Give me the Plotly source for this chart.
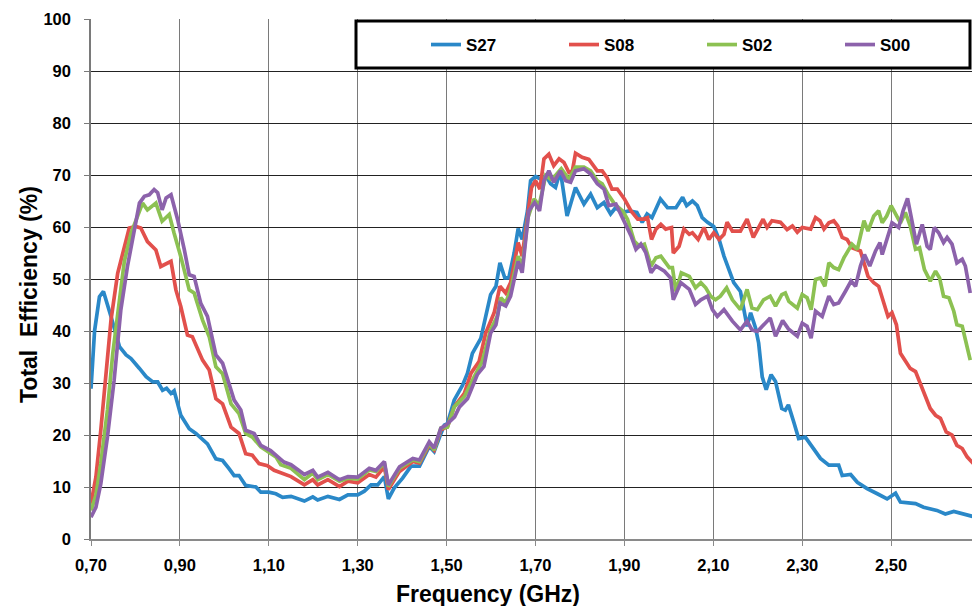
import plotly.graph_objects as go

# ---- data ----
f_s27 = [0.700,0.708,0.719,0.728,0.745,0.764,0.779,0.790,0.809,0.824,0.839,0.850,0.861,0.870,0.880,0.887,0.902,0.921,0.936,0.951,0.962,0.981,0.996,1.011,1.022,1.033,1.048,1.071,1.082,1.100,1.116,1.131,1.150,1.180,1.199,1.210,1.233,1.259,1.278,1.300,1.315,1.330,1.345,1.360,1.369,1.382,1.401,1.420,1.439,1.461,1.472,1.485,1.495,1.502,1.517,1.536,1.547,1.558,1.577,1.588,1.599,1.611,1.620,1.631,1.640,1.652,1.661,1.670,1.682,1.689,1.700,1.712,1.723,1.734,1.745,1.756,1.771,1.790,1.809,1.824,1.839,1.854,1.869,1.880,1.895,1.910,1.928,1.940,1.951,1.962,1.981,1.997,2.016,2.031,2.040,2.053,2.064,2.075,2.087,2.101,2.113,2.124,2.135,2.146,2.161,2.169,2.176,2.184,2.195,2.202,2.210,2.219,2.230,2.240,2.254,2.262,2.269,2.281,2.292,2.307,2.322,2.341,2.360,2.382,2.390,2.409,2.424,2.446,2.469,2.491,2.510,2.521,2.555,2.573,2.603,2.622,2.641,2.660,2.685]
v_s27 = [28.9,40.0,46.6,47.6,42.8,37.0,35.4,34.7,32.8,31.2,30.2,30.2,28.6,29.0,28.0,28.5,23.8,21.2,20.3,19.0,18.3,15.4,15.1,13.5,12.2,12.2,10.3,10.0,9.0,9.0,8.7,8.0,8.2,7.3,8.1,7.5,8.2,7.6,8.5,8.5,9.2,10.4,10.4,12.0,7.7,9.8,11.7,14.0,14.0,17.8,16.8,19.8,21.9,22.2,26.7,29.6,31.9,35.7,38.6,42.8,47.0,48.6,53.1,50.2,50.2,55.0,59.7,57.6,63.1,68.9,69.7,69.2,69.9,68.3,67.6,70.8,62.1,67.6,64.4,66.3,63.7,64.7,62.5,63.7,62.8,63.1,62.8,60.9,62.5,61.8,65.4,63.7,63.7,65.7,64.1,65.0,64.1,61.8,60.9,60.1,57.6,54.4,51.8,49.3,47.6,44.1,40.9,43.5,40.6,37.7,31.2,28.7,31.6,30.3,25.1,24.8,25.8,22.5,19.3,19.6,17.7,15.5,14.2,14.2,12.2,12.4,10.9,9.7,8.7,7.7,8.8,7.1,6.8,6.1,5.5,4.8,5.3,4.8,4.3]

f_s08 = [0.700,0.711,0.722,0.734,0.745,0.760,0.771,0.786,0.801,0.812,0.827,0.846,0.857,0.880,0.891,0.902,0.917,0.928,0.951,0.966,0.981,0.996,1.015,1.033,1.048,1.063,1.078,1.097,1.112,1.127,1.150,1.180,1.199,1.210,1.233,1.259,1.278,1.300,1.326,1.341,1.360,1.369,1.394,1.424,1.439,1.461,1.472,1.487,1.502,1.517,1.540,1.555,1.573,1.588,1.607,1.620,1.633,1.644,1.661,1.670,1.683,1.691,1.700,1.710,1.719,1.730,1.741,1.753,1.764,1.775,1.783,1.790,1.805,1.820,1.839,1.850,1.861,1.872,1.884,1.900,1.915,1.930,1.941,1.952,1.961,1.971,1.982,1.993,2.006,2.010,2.023,2.034,2.046,2.053,2.066,2.079,2.090,2.101,2.113,2.124,2.131,2.143,2.161,2.176,2.190,2.199,2.212,2.221,2.232,2.251,2.266,2.278,2.289,2.300,2.319,2.330,2.340,2.349,2.360,2.371,2.380,2.390,2.401,2.412,2.431,2.448,2.461,2.472,2.484,2.493,2.502,2.512,2.521,2.532,2.543,2.555,2.566,2.577,2.588,2.600,2.611,2.624,2.637,2.648,2.660,2.671,2.685]
v_s08 = [6.8,11.9,20.9,31.2,42.1,51.1,55.0,59.8,60.1,59.8,57.2,55.6,52.4,53.4,47.9,44.7,39.2,38.9,34.4,32.5,27.0,26.0,21.5,20.3,16.4,16.1,14.5,14.1,13.2,12.7,12.0,10.4,11.4,10.4,11.4,10.1,11.1,10.8,12.4,11.9,13.9,9.5,13.0,14.9,14.6,18.1,17.1,21.0,21.6,25.4,28.0,31.9,34.1,39.6,43.5,48.6,47.3,49.3,57.0,54.4,63.4,67.6,68.9,67.3,73.1,74.0,71.8,73.1,72.4,70.5,70.8,74.2,73.4,73.0,70.8,70.8,69.5,67.3,67.3,65.4,63.1,61.5,61.5,61.8,57.6,59.6,60.5,59.6,59.9,55.0,56.3,59.6,58.6,58.9,57.6,59.9,57.6,58.9,57.6,58.6,60.9,59.2,59.2,61.5,58.0,59.6,61.5,59.9,61.2,60.9,59.5,60.2,59.0,59.9,59.6,61.8,61.2,59.6,60.8,61.2,60.2,58.0,57.6,56.0,55.4,50.5,49.3,48.6,45.1,42.8,43.5,41.2,35.7,34.1,32.8,32.2,29.9,27.4,25.1,23.8,23.2,20.6,20.0,18.0,17.4,15.8,14.5]

f_s02 = [0.700,0.711,0.722,0.737,0.749,0.764,0.775,0.790,0.801,0.816,0.827,0.846,0.860,0.876,0.887,0.902,0.921,0.932,0.951,0.966,0.981,0.996,1.015,1.033,1.048,1.063,1.082,1.100,1.116,1.127,1.150,1.180,1.199,1.210,1.233,1.259,1.278,1.300,1.326,1.341,1.360,1.369,1.394,1.424,1.439,1.461,1.472,1.487,1.502,1.517,1.540,1.562,1.580,1.599,1.614,1.622,1.633,1.644,1.661,1.670,1.683,1.697,1.708,1.723,1.734,1.745,1.758,1.775,1.790,1.809,1.824,1.839,1.850,1.863,1.878,1.896,1.907,1.922,1.934,1.945,1.960,1.971,1.982,2.001,2.008,2.016,2.028,2.046,2.060,2.072,2.083,2.094,2.105,2.116,2.130,2.143,2.161,2.176,2.187,2.199,2.213,2.228,2.240,2.254,2.262,2.270,2.289,2.300,2.311,2.320,2.330,2.341,2.351,2.360,2.371,2.382,2.394,2.412,2.424,2.439,2.448,2.461,2.472,2.480,2.490,2.500,2.510,2.521,2.532,2.543,2.555,2.564,2.575,2.588,2.600,2.609,2.618,2.630,2.641,2.648,2.660,2.667,2.678]
v_s02 = [5.5,8.4,14.5,24.8,35.7,46.6,53.4,58.8,61.4,64.6,63.3,64.6,61.1,62.4,58.8,54.3,47.9,47.3,42.1,38.9,33.1,31.8,26.0,24.1,20.3,19.6,17.7,16.7,15.8,14.3,13.6,11.4,12.7,11.4,12.4,11.1,11.7,11.5,13.3,13.0,14.6,10.1,13.6,15.2,14.9,18.4,17.1,21.3,21.5,25.4,27.4,31.2,34.1,40.2,42.8,46.4,45.4,48.0,54.4,52.2,61.8,65.4,64.1,69.9,69.2,69.9,71.2,69.2,71.5,71.5,70.8,68.9,68.3,66.3,64.4,63.1,61.5,57.3,56.3,56.7,52.5,54.1,54.4,52.2,52.2,47.6,51.2,50.5,48.3,49.3,48.3,46.7,46.0,46.7,48.3,46.0,44.1,48.0,44.4,44.1,46.0,46.7,44.8,47.0,47.3,45.7,44.4,47.0,46.4,44.1,49.9,50.2,48.6,53.1,52.2,51.8,54.1,56.7,55.7,61.2,59.2,62.1,63.1,60.8,62.1,64.1,62.5,60.8,62.8,60.2,55.7,56.0,51.8,49.6,51.5,50.2,46.7,46.4,43.8,41.2,40.9,38.3,34.4]

f_s00 = [0.700,0.711,0.722,0.737,0.752,0.767,0.782,0.794,0.809,0.820,0.831,0.842,0.850,0.860,0.869,0.880,0.895,0.910,0.921,0.932,0.947,0.962,0.981,0.996,1.022,1.037,1.048,1.067,1.082,1.104,1.119,1.134,1.150,1.180,1.199,1.210,1.233,1.259,1.278,1.300,1.326,1.341,1.360,1.369,1.394,1.424,1.439,1.461,1.472,1.487,1.500,1.518,1.529,1.547,1.569,1.584,1.599,1.611,1.620,1.633,1.644,1.661,1.670,1.685,1.698,1.709,1.719,1.730,1.741,1.756,1.768,1.779,1.790,1.809,1.824,1.839,1.854,1.865,1.881,1.900,1.915,1.926,1.937,1.948,1.960,1.971,1.990,2.004,2.010,2.027,2.046,2.060,2.072,2.087,2.098,2.109,2.124,2.143,2.161,2.176,2.187,2.199,2.213,2.228,2.240,2.256,2.269,2.289,2.300,2.311,2.320,2.330,2.345,2.360,2.371,2.382,2.397,2.410,2.420,2.431,2.440,2.452,2.465,2.475,2.480,2.491,2.502,2.517,2.527,2.537,2.547,2.557,2.570,2.581,2.588,2.597,2.607,2.618,2.626,2.637,2.648,2.660,2.667,2.678]
v_s00 = [4.2,6.1,10.6,19.6,30.5,44.0,52.4,57.6,64.6,65.9,66.2,67.2,66.6,63.3,65.6,66.2,61.4,55.6,50.8,50.5,45.3,42.8,35.4,33.8,26.7,24.8,20.9,20.3,18.0,17.0,15.8,14.8,14.3,12.4,13.2,11.9,12.8,11.4,12.0,11.9,13.6,13.2,14.9,10.4,13.9,15.5,15.2,18.7,17.5,21.3,22.0,23.5,25.4,27.0,31.6,33.2,39.6,41.2,45.4,44.8,46.7,53.4,51.2,63.1,64.7,63.1,68.9,70.8,68.6,70.8,68.9,68.6,70.8,71.2,70.2,68.3,67.3,64.1,64.4,61.2,58.3,55.7,56.7,55.1,51.2,52.5,51.5,50.2,46.0,49.3,48.0,45.1,46.0,46.7,44.1,42.8,44.1,41.9,40.2,41.9,40.2,39.9,41.2,42.5,39.0,42.0,40.4,39.0,41.5,40.9,38.6,43.8,42.8,46.7,45.1,45.4,47.6,49.6,48.6,52.5,54.7,52.5,55.4,57.0,54.7,58.0,60.8,59.9,63.1,65.5,61.5,56.7,60.5,56.3,55.7,59.9,58.9,57.0,58.0,56.7,53.1,53.8,52.5,47.3]

series_names = ["S27", "S08", "S02", "S00"]
series_x = [f_s27, f_s08, f_s02, f_s00]
series_y = [v_s27, v_s08, v_s02, v_s00]
colors = ["#2a88c8", "#e2504c", "#8cc152", "#8c62ab"]

FONT = "Liberation Sans, Arial, sans-serif"

fig = go.Figure()
for name, xs, ys, c in zip(series_names, series_x, series_y, colors):
    fig.add_trace(go.Scatter(x=xs, y=ys, mode="lines", name=name,
                             line=dict(color=c, width=3.7)))

W, H = 972, 606
L, R, T, B = 91, 0, 19, 67
pw, ph = W - L - R, H - T - B

def px(xp):
    return (xp - L) / pw

def py(yp):
    return (H - B - yp) / ph

fig.update_layout(
    width=W, height=H,
    margin=dict(l=L, r=R, t=T, b=B, autoexpand=False),
    paper_bgcolor="white", plot_bgcolor="white",
    separators=",.",
    font=dict(family=FONT, color="black"),
    showlegend=True,
    legend=dict(orientation="h", x=px(426), xanchor="left", y=py(45), yanchor="middle",
                bgcolor="rgba(0,0,0,0)", borderwidth=0,
                font=dict(family=FONT, size=17, color="black", weight="bold"),
                entrywidth=93, entrywidthmode="pixels", itemwidth=30),
    shapes=[dict(type="rect", xref="paper", yref="paper",
                 x0=px(356), x1=px(970), y0=py(68), y1=py(21),
                 line=dict(color="black", width=3), fillcolor="white", layer="above")],
    annotations=[
        dict(text="Frequency (GHz)", xref="paper", yref="paper", x=px(488), y=py(594),
             xanchor="center", yanchor="middle", showarrow=False,
             font=dict(family=FONT, size=23, color="black", weight="bold")),
        dict(text="Total\u00a0 Efficiency (%)", xref="paper", yref="paper", x=px(29), y=py(295),
             xanchor="center", yanchor="middle", textangle=-90, showarrow=False,
             font=dict(family=FONT, size=23, color="black", weight="bold")),
    ],
)

fig.update_xaxes(range=[0.70, 2.682], tick0=0.70, dtick=0.2, tickformat=".2f",
                 showgrid=True, gridcolor="#7a7a7a", gridwidth=1.3,
                 showline=True, linecolor="#8a8a8a", linewidth=1.5,
                 ticks="outside", ticklen=5, tickcolor="#8a8a8a",
                 ticklabelstandoff=5,
                 tickfont=dict(family=FONT, size=16.5, color="black", weight="bold"),
                 zeroline=False, fixedrange=True)
fig.update_yaxes(range=[0, 100], dtick=10,
                 showgrid=True, gridcolor="#222222", gridwidth=1,
                 showline=True, linecolor="#7a7a7a", linewidth=1.5,
                 ticks="outside", ticklen=5, tickcolor="#7a7a7a",
                 ticklabelstandoff=10,
                 tickfont=dict(family=FONT, size=16.5, color="black", weight="bold"),
                 zeroline=False, fixedrange=True)

fig.write_html("out.html")
